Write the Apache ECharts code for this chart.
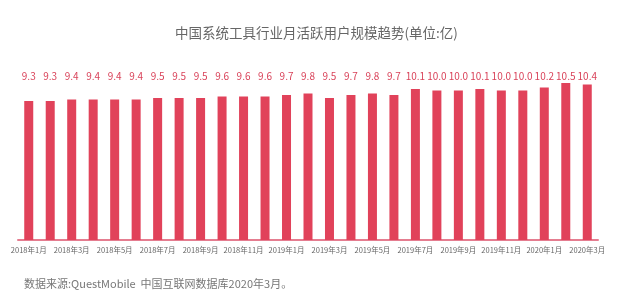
<!DOCTYPE html>
<html><head><meta charset="utf-8">
<script src="https://cdn.jsdelivr.net/npm/echarts@6/dist/echarts.min.js"></script>
<style>html,body{margin:0;padding:0;background:#fff}#c{width:640px;height:291px}</style>
</head><body><div id="c"></div>
<script>
const categories = ['2018年1月','2018年2月','2018年3月','2018年4月','2018年5月','2018年6月','2018年7月','2018年8月','2018年9月','2018年10月','2018年11月','2018年12月','2019年1月','2019年2月','2019年3月','2019年4月','2019年5月','2019年6月','2019年7月','2019年8月','2019年9月','2019年10月','2019年11月','2019年12月','2020年1月','2020年2月','2020年3月'];
const mau = [9.3,9.3,9.4,9.4,9.4,9.4,9.5,9.5,9.5,9.6,9.6,9.6,9.7,9.8,9.5,9.7,9.8,9.7,10.1,10.0,10.0,10.1,10.0,10.0,10.2,10.5,10.4];
const titleText = '中国系统工具行业月活跃用户规模趋势(单位:亿)';
const sourceText = '数据来源:QuestMobile  中国互联网数据库2020年3月。';
const yMax = 11.3;
const labelRow = categories.map(() => yMax);

const chart = echarts.init(document.getElementById('c'));
chart.setOption({
  animation: false,
  title: [
    {text: titleText, left: 170, top: 21, textStyle: {fontSize: 13.5, fontWeight: 'normal', color: '#666', fontFamily: 'Noto Sans CJK SC'}},
    {text: sourceText, left: 19, top: 273, textStyle: {fontSize: 11, fontWeight: 'normal', color: '#777', fontFamily: 'Noto Sans CJK SC'}}
  ],
  grid: {left: 18, right: 42, top: 71, bottom: 51},
  xAxis: {
    type: 'category', data: categories,
    axisLine: {lineStyle: {color: '#e57d90', width: 2}},
    axisTick: {show: false},
    axisLabel: {interval: 1, fontSize: 7.5, color: '#666', margin: 6, fontFamily: 'Noto Sans CJK SC'}
  },
  yAxis: {type: 'value', min: 0, max: yMax, show: false, splitLine: {show: false}},
  series: [
    {type: 'bar', data: mau, barWidth: 9, itemStyle: {color: '#e1425a'}, z: 2},
    {type: 'bar', data: labelRow, barWidth: 9, barGap: '-100%', itemStyle: {color: 'rgba(0,0,0,0)'}, z: 1, silent: true,
     label: {show: true, position: 'insideTop', distance: 0, color: '#d9435a', fontSize: 10, fontFamily: 'Noto Sans CJK SC',
       formatter: p => mau[p.dataIndex].toFixed(1)}}
  ]
});
</script></body></html>
